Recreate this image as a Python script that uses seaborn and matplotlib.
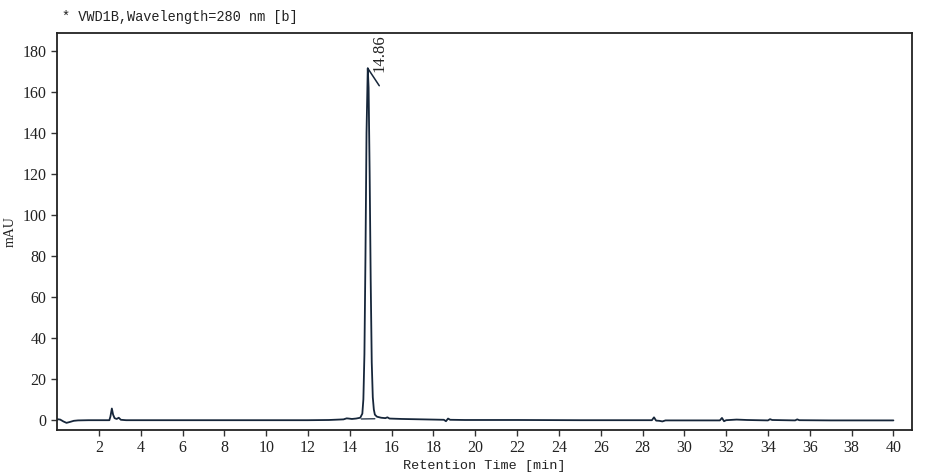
import seaborn as sns
import matplotlib.pyplot as plt
import pandas as pd

# retention time [min] and signal [mAU]
rt = [0.0, 0.15, 0.3, 0.45, 0.6, 0.8, 1.0, 1.5, 2.0, 2.5, 2.55, 2.62, 2.68, 2.75, 2.85,
      2.95, 3.05, 3.3, 4.0, 6.0, 8.0, 10.0, 12.0, 13.0, 13.7, 13.85, 13.95, 14.1, 14.3,
      14.5, 14.6, 14.65, 14.7, 14.75, 14.8, 14.86, 14.9, 14.95, 15.0, 15.05, 15.1, 15.15,
      15.2, 15.3, 15.5, 15.7, 15.8, 15.9, 16.2, 16.5, 17.0, 18.0, 18.5, 18.6, 18.7, 18.8,
      19.5, 22.0, 25.0, 28.45, 28.55, 28.65, 28.8, 28.95, 29.1, 30.0, 31.7, 31.8, 31.9,
      32.0, 32.5, 33.0, 34.0, 34.1, 34.2, 35.3, 35.4, 35.5, 37.0, 40.0]
mau = [0.3, 0.1, -0.8, -1.5, -1.1, -0.5, -0.3, -0.2, -0.2, -0.2, 1.5, 5.5, 2.5, 0.8, 0.4,
       1.0, 0.0, -0.2, -0.2, -0.2, -0.2, -0.2, -0.2, -0.1, 0.2, 0.7, 0.6, 0.4, 0.6,
       1.0, 3.0, 10.0, 32.0, 80.0, 140.0, 171.5, 162.0, 120.0, 68.0, 28.0, 11.0, 5.0,
       2.5, 1.5, 1.0, 0.8, 1.2, 0.6, 0.5, 0.4, 0.3, 0.1, 0.0, -0.7, 0.6, 0.0,
       -0.1, -0.1, -0.2, -0.2, 1.2, -0.4, -0.5, -0.8, -0.3, -0.3, -0.3, 0.9, -0.7,
       -0.2, 0.1, -0.1, -0.3, 0.3, -0.1, -0.3, 0.2, -0.2, -0.3, -0.3]

# integration baseline under the main peak
base_rt = [14.55, 15.2]
base_mau = [0.4, 0.5]

peak_label = "14.86"

title = "* VWD1B,Wavelength=280 nm [b]"
x_ticks = list(range(2, 41, 2))
y_ticks = list(range(0, 181, 20))

sns.set_style("ticks")
plt.rcParams['font.family'] = ['Liberation Serif', 'DejaVu Serif']
plt.rcParams['xtick.direction'] = 'out'
plt.rcParams['ytick.direction'] = 'out'

df = pd.DataFrame({'rt': rt, 'mau': mau})
line_color = '#16263a'
mono = ['Liberation Mono', 'DejaVu Sans Mono']

fig, ax = plt.subplots(figsize=(9.28, 4.76), dpi=100)
fig.subplots_adjust(left=0.0615, right=0.983, top=0.931, bottom=0.097)

sns.lineplot(data=df, x='rt', y='mau', color=line_color, linewidth=1.3, ax=ax)
sns.lineplot(x=base_rt, y=base_mau, color=line_color, linewidth=0.9, ax=ax)

# peak apex marker and label
apex = df.loc[df['mau'].idxmax()]
ax.plot([apex['rt'], apex['rt'] + 0.55], [apex['mau'], apex['mau'] - 8.5],
        color=line_color, linewidth=1.1)
ax.text(apex['rt'] + 0.2, apex['mau'] - 2, peak_label, rotation=90,
        fontsize=12, ha='left', va='bottom', color='#222222')

ax.set_xlim(0, 40.9)
ax.set_ylim(-4.9, 188.8)
ax.set_xticks(x_ticks)
ax.set_yticks(y_ticks)
ax.tick_params(axis='both', labelsize=11.5, length=4, width=1, colors='#333333',
               labelcolor='#222222')
for sp in ax.spines.values():
    sp.set_visible(True)
    sp.set_linewidth(1.3)
    sp.set_color('#222222')

ax.set_xlabel("Retention Time [min]", fontsize=9.7, family=mono,
              color='#222222', labelpad=3)
ax.set_ylabel("mAU", fontsize=10, color='#222222', labelpad=4)
fig.text(0.067, 0.965, title, fontsize=9.8, family=mono,
         color='#222222', ha='left', va='center')

fig.savefig('out.png', dpi=100)
